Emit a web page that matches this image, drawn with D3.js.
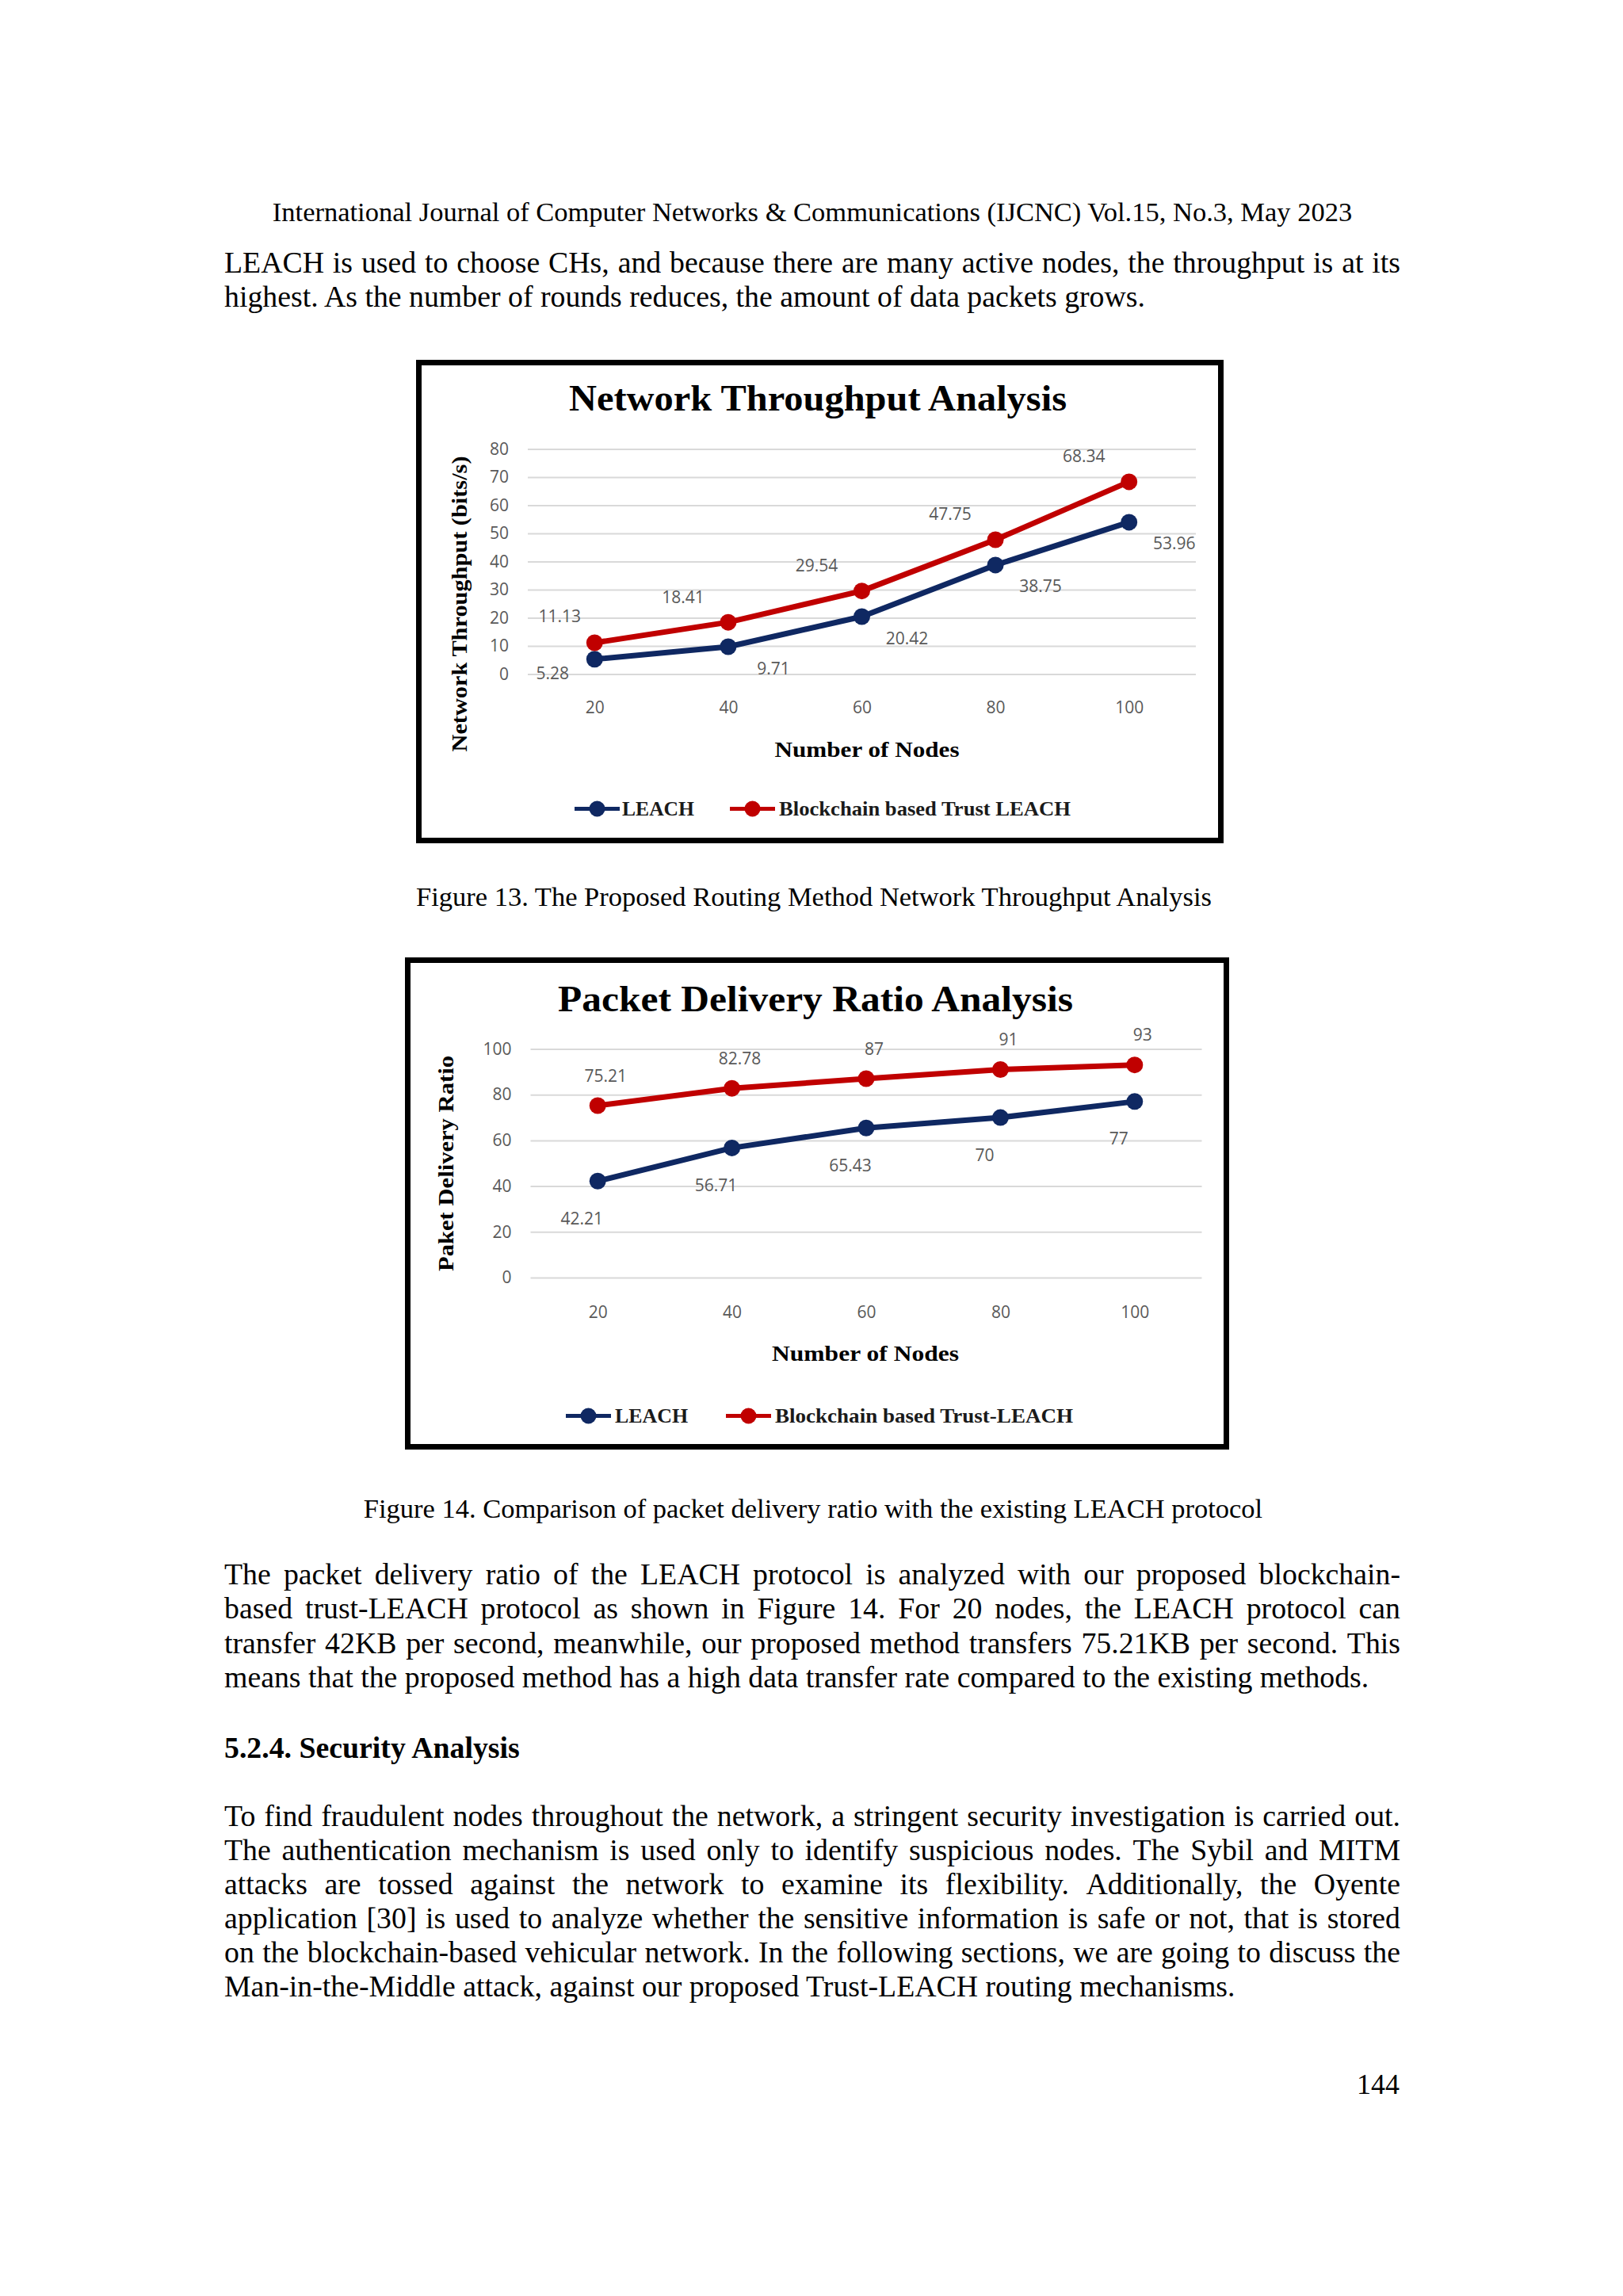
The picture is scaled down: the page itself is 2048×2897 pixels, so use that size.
<!DOCTYPE html>
<html>
<head>
<meta charset="utf-8">
<script src="https://cdn.jsdelivr.net/npm/d3@7"></script>
<style>
  body { margin: 0; background: #fff; }
  svg { display: block; }
</style>
</head>
<body>
<div id="page"></div>
<script>
// ---- chart data ----
var nodes = [20, 40, 60, 80, 100];
var throughputLeach = [5.28, 9.71, 20.42, 38.75, 53.96];
var throughputTrust = [11.13, 18.41, 29.54, 47.75, 68.34];
var throughputTicks = [0, 10, 20, 30, 40, 50, 60, 70, 80];
var pdrLeach = [42.21, 56.71, 65.43, 70, 77];
var pdrTrust = [75.21, 82.78, 87, 91, 93];
var pdrTicks = [0, 20, 40, 60, 80, 100];

// ---- page text ----
var headerText = "International Journal of Computer Networks & Communications (IJCNC) Vol.15, No.3, May 2023";
var para1 = [
    "LEACH is used to choose CHs, and because there are many active nodes, the throughput is at its",
    "highest. As the number of rounds reduces, the amount of data packets grows."
];
var para2 = [
    "The packet delivery ratio of the LEACH protocol is analyzed with our proposed blockchain-",
    "based trust-LEACH protocol as shown in Figure 14. For 20 nodes, the LEACH protocol can",
    "transfer 42KB per second, meanwhile, our proposed method transfers 75.21KB per second. This",
    "means that the proposed method has a high data transfer rate compared to the existing methods."
];
var heading = "5.2.4. Security Analysis";
var para3 = [
    "To find fraudulent nodes throughout the network, a stringent security investigation is carried out.",
    "The authentication mechanism is used only to identify suspicious nodes. The Sybil and MITM",
    "attacks are tossed against the network to examine its flexibility. Additionally, the Oyente",
    "application [30] is used to analyze whether the sensitive information is safe or not, that is stored",
    "on the blockchain-based vehicular network. In the following sections, we are going to discuss the",
    "Man-in-the-Middle attack, against our proposed Trust-LEACH routing mechanisms."
];
var caption13 = "Figure 13. The Proposed Routing Method Network Throughput Analysis";
var caption14 = "Figure 14. Comparison of packet delivery ratio with the existing LEACH protocol";
var pageNumber = "144";

var W = 2048, H = 2897;
var pageFont = "'Liberation Serif', 'Times New Roman', serif";
var chartSerif = "'Liberation Serif', serif";
var chartSans = "'Open Sans', sans-serif";
var navy = "#0f2862";
var red = "#c00000";

var svg = d3.select("#page").append("svg")
    .attr("width", W)
    .attr("height", H)
    .style("background", "#fff");

/********** page text **********/
var textLeft = 283, textRight = 1767, bodySize = 37.8, smallSize = 34.5;

var measurer = svg.append("text")
    .attr("font-family", pageFont)
    .attr("font-size", bodySize)
    .attr("visibility", "hidden");
function measure(str, weight) {
    measurer.attr("font-weight", weight || "normal").text(str);
    return measurer.node().getComputedTextLength();
}

function bodyLine(str, y, justify) {
    var t = svg.append("text")
        .attr("font-family", pageFont)
        .attr("font-size", bodySize)
        .attr("fill", "#000")
        .attr("y", y);
    if (!justify) {
        t.attr("x", textLeft).text(str);
        return;
    }
    var words = str.split(" ");
    var widths = words.map(function(w) { return measure(w); });
    var gap = (textRight - textLeft - d3.sum(widths)) / (words.length - 1);
    var xPos = textLeft;
    words.forEach(function(w, i) {
        t.append("tspan").attr("x", xPos).text(w);
        xPos += widths[i] + gap;
    });
}

function paragraph(lines, y0, step) {
    lines.forEach(function(ln, i) {
        bodyLine(ln, y0 + i * step, i < lines.length - 1);
    });
}

svg.append("text")
    .attr("x", 1025).attr("y", 279)
    .attr("text-anchor", "middle")
    .attr("font-family", pageFont)
    .attr("font-size", smallSize)
    .text(headerText);

paragraph(para1, 344, 42.5);
paragraph(para2, 1999, 43.3);
svg.append("text")
    .attr("x", textLeft).attr("y", 2218)
    .attr("font-family", pageFont)
    .attr("font-weight", "bold")
    .attr("font-size", bodySize)
    .text(heading);
paragraph(para3, 2304, 43);

svg.append("text")
    .attr("x", 1027).attr("y", 1143)
    .attr("text-anchor", "middle")
    .attr("font-family", pageFont)
    .attr("font-size", smallSize)
    .text(caption13);
svg.append("text")
    .attr("x", 1026).attr("y", 1915)
    .attr("text-anchor", "middle")
    .attr("font-family", pageFont)
    .attr("font-size", smallSize)
    .text(caption14);
svg.append("text")
    .attr("x", 1766).attr("y", 2642)
    .attr("text-anchor", "end")
    .attr("font-family", pageFont)
    .attr("font-size", 36)
    .text(pageNumber);

/********** charts **********/
function drawChart(cfg) {
    var g = svg.append("g");
    var p = cfg.plot;

    g.append("rect")
        .attr("x", cfg.frame.x + 3.5)
        .attr("y", cfg.frame.y + 3.5)
        .attr("width", cfg.frame.w - 7)
        .attr("height", cfg.frame.h - 7)
        .attr("fill", "#fff")
        .attr("stroke", "#000")
        .attr("stroke-width", 7);

    var x = d3.scalePoint()
        .domain(nodes)
        .range([p.left, p.right])
        .padding(0.5);
    var y = d3.scaleLinear()
        .domain([0, d3.max(cfg.yTicks)])
        .range([p.bottom, p.top]);

    // gridlines + y tick labels
    var yAxis = d3.axisLeft(y)
        .tickValues(cfg.yTicks)
        .tickSize(-(p.right - p.left))
        .tickPadding(24);
    g.append("g")
        .attr("transform", "translate(" + p.left + ",0)")
        .call(yAxis)
        .attr("font-family", chartSans)
        .attr("font-size", 21)
        .call(function(a) {
            a.select(".domain").remove();
            a.selectAll("line").attr("stroke", "#d9d9d9").attr("stroke-width", 2);
            a.selectAll("text").attr("fill", "#595959");
        });

    // x tick labels
    var xAxis = d3.axisBottom(x).tickSize(0).tickPadding(cfg.xTickPad);
    g.append("g")
        .attr("transform", "translate(0," + p.bottom + ")")
        .call(xAxis)
        .attr("font-family", chartSans)
        .attr("font-size", 21)
        .call(function(a) {
            a.select(".domain").remove();
            a.selectAll("text").attr("fill", "#595959");
        });

    // titles
    g.append("text")
        .attr("x", cfg.title.x).attr("y", cfg.title.y)
        .attr("text-anchor", "middle")
        .attr("font-family", chartSerif)
        .attr("font-weight", "bold")
        .attr("font-size", 46)
        .attr("textLength", cfg.title.len)
        .attr("lengthAdjust", "spacingAndGlyphs")
        .text(cfg.title.text);
    g.append("text")
        .attr("x", cfg.xTitle.x).attr("y", cfg.xTitle.y)
        .attr("text-anchor", "middle")
        .attr("font-family", chartSerif)
        .attr("font-weight", "bold")
        .attr("font-size", 27)
        .attr("textLength", cfg.xTitle.len)
        .attr("lengthAdjust", "spacingAndGlyphs")
        .text("Number of Nodes");
    g.append("text")
        .attr("transform", "translate(" + cfg.yTitle.x + "," + cfg.yTitle.y + ") rotate(-90)")
        .attr("text-anchor", "middle")
        .attr("font-family", chartSerif)
        .attr("font-weight", "bold")
        .attr("font-size", 27)
        .attr("textLength", cfg.yTitle.len)
        .attr("lengthAdjust", "spacingAndGlyphs")
        .text(cfg.yTitle.text);

    var line = d3.line()
        .x(function(d, i) { return x(nodes[i]); })
        .y(function(d) { return y(d); });

    cfg.series.forEach(function(s, si) {
        g.append("path")
            .datum(s.values)
            .attr("d", line)
            .attr("fill", "none")
            .attr("stroke", s.color)
            .attr("stroke-width", 7)
            .attr("stroke-linejoin", "round")
            .attr("stroke-linecap", "round");
        g.selectAll(".m" + si)
            .data(s.values)
            .enter()
            .append("circle")
            .attr("cx", function(d, i) { return x(nodes[i]); })
            .attr("cy", function(d) { return y(d); })
            .attr("r", 10.5)
            .attr("fill", s.color);
        g.selectAll(".l" + si)
            .data(s.values)
            .enter()
            .append("text")
            .attr("x", function(d, i) { return x(nodes[i]) + cfg.labelOffset(si, i)[0]; })
            .attr("y", function(d, i) { return y(d) + cfg.labelOffset(si, i)[1] + 7.5; })
            .attr("text-anchor", "middle")
            .attr("font-family", chartSans)
            .attr("font-size", 21)
            .attr("fill", "#595959")
            .text(function(d) { return d; });
    });

    // legend
    var lg = g.append("g");
    cfg.series.forEach(function(s, si) {
        var lx = cfg.legend.lineX[si];
        lg.append("line")
            .attr("x1", lx).attr("x2", lx + 57)
            .attr("y1", cfg.legend.y).attr("y2", cfg.legend.y)
            .attr("stroke", s.color)
            .attr("stroke-width", 5);
        lg.append("circle")
            .attr("cx", lx + 28.5).attr("cy", cfg.legend.y)
            .attr("r", 10)
            .attr("fill", s.color);
        lg.append("text")
            .attr("x", cfg.legend.textX[si])
            .attr("y", cfg.legend.y + 8.5)
            .attr("font-family", chartSerif)
            .attr("font-weight", "bold")
            .attr("font-size", 25)
            .attr("textLength", cfg.legend.textLen[si])
            .attr("lengthAdjust", "spacingAndGlyphs")
            .attr("fill", "#1a1a1a")
            .text(s.name);
    });
}

drawChart({
    frame: { x: 525, y: 454, w: 1019, h: 610 },
    plot: { left: 666, right: 1509, top: 566.5, bottom: 850.5 },
    yTicks: throughputTicks,
    xTickPad: 35,
    title: { text: "Network Throughput Analysis", x: 1032, y: 518, len: 628 },
    xTitle: { x: 1094, y: 955, len: 233 },
    yTitle: { text: "Network Throughput (bits/s)", x: 589, y: 762, len: 373 },
    series: [
        { name: "LEACH", values: throughputLeach, color: navy },
        { name: "Blockchain based Trust LEACH", values: throughputTrust, color: red }
    ],
    labelOffset: function(si, i) {
        if (si === 1) return i === 0 ? [-44, -33] : [-57, -32];
        return i === 0 ? [-53, 18] : [57, 27];
    },
    legend: { y: 1020.5, lineX: [725, 921], textX: [785, 983], textLen: [91, 368] }
});

drawChart({
    frame: { x: 511, y: 1208, w: 1040, h: 621 },
    plot: { left: 669.5, right: 1516.5, top: 1323.5, bottom: 1612 },
    yTicks: pdrTicks,
    xTickPad: 36,
    title: { text: "Packet Delivery Ratio Analysis", x: 1029, y: 1276, len: 650 },
    xTitle: { x: 1092, y: 1717, len: 236 },
    yTitle: { text: "Paket Delivery Ratio", x: 572, y: 1468, len: 272 },
    series: [
        { name: "LEACH", values: pdrLeach, color: navy },
        { name: "Blockchain based Trust-LEACH", values: pdrTrust, color: red }
    ],
    labelOffset: function(si, i) {
        if (si === 1) return [10, -38];
        return [-20, 47];
    },
    legend: { y: 1786.5, lineX: [714, 916], textX: [776, 978], textLen: [92, 376] }
});
</script>
</body>
</html>
